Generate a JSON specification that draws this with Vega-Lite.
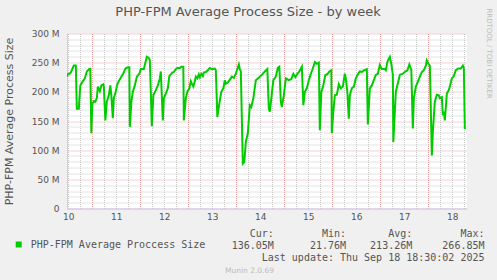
{
  "$schema": "https://vega.github.io/schema/vega-lite/v6.json",
  "width": 400,
  "height": 175,
  "autosize": "none",
  "padding": {"left": 67, "top": 33.5, "right": 30, "bottom": 71.5},
  "background": "#F0F0F0",
  "view": {"fill": "#FFFFFF", "stroke": null},
  "title": {
    "text": "PHP-FPM Average Process Size - by week",
    "font": "DejaVu Sans", "fontSize": 13, "fontWeight": "normal", "color": "#555555",
    "anchor": "middle", "dx": -19, "dy": 21, "offset": 10
  },
  "data": {"values": [
    {"t":"2025-09-10T11:15","v":226},{"t":"2025-09-10T11:45","v":230},{"t":"2025-09-10T13:00","v":232},{"t":"2025-09-10T13:45","v":237},{"t":"2025-09-10T14:45","v":245},{"t":"2025-09-10T15:45","v":245},{"t":"2025-09-10T16:15","v":171},{"t":"2025-09-10T17:15","v":171},{"t":"2025-09-10T17:30","v":186},{"t":"2025-09-10T18:00","v":211},{"t":"2025-09-10T19:15","v":218},{"t":"2025-09-10T20:15","v":223},{"t":"2025-09-10T21:15","v":235},{"t":"2025-09-10T22:30","v":239},{"t":"2025-09-10T23:00","v":239},{"t":"2025-09-10T23:30","v":129},
    {"t":"2025-09-11T00:00","v":180},{"t":"2025-09-11T00:45","v":184},{"t":"2025-09-11T01:30","v":183},{"t":"2025-09-11T02:15","v":189},{"t":"2025-09-11T02:45","v":209},{"t":"2025-09-11T03:45","v":201},{"t":"2025-09-11T04:30","v":211},{"t":"2025-09-11T05:30","v":213},{"t":"2025-09-11T05:45","v":209},{"t":"2025-09-11T06:30","v":151},{"t":"2025-09-11T07:15","v":183},{"t":"2025-09-11T08:15","v":194},{"t":"2025-09-11T09:00","v":211},{"t":"2025-09-11T09:30","v":194},{"t":"2025-09-11T10:15","v":155},{"t":"2025-09-11T10:45","v":189},{"t":"2025-09-11T11:45","v":201},{"t":"2025-09-11T12:30","v":213},{"t":"2025-09-11T13:30","v":220},{"t":"2025-09-11T14:30","v":226},{"t":"2025-09-11T15:45","v":233},{"t":"2025-09-11T16:30","v":240},{"t":"2025-09-11T17:45","v":242},{"t":"2025-09-11T18:30","v":242},{"t":"2025-09-11T18:45","v":140},{"t":"2025-09-11T19:30","v":183},{"t":"2025-09-11T20:15","v":200},{"t":"2025-09-11T21:15","v":211},{"t":"2025-09-11T22:15","v":226},{"t":"2025-09-11T23:30","v":231},
    {"t":"2025-09-12T00:15","v":239},{"t":"2025-09-12T01:45","v":239},{"t":"2025-09-12T03:15","v":260},{"t":"2025-09-12T04:15","v":258},{"t":"2025-09-12T04:45","v":254},{"t":"2025-09-12T05:45","v":141},{"t":"2025-09-12T06:30","v":194},{"t":"2025-09-12T07:45","v":203},{"t":"2025-09-12T08:45","v":211},{"t":"2025-09-12T09:45","v":223},{"t":"2025-09-12T10:15","v":235},{"t":"2025-09-12T11:15","v":151},{"t":"2025-09-12T11:45","v":189},{"t":"2025-09-12T12:45","v":197},{"t":"2025-09-12T13:45","v":206},{"t":"2025-09-12T14:30","v":227},{"t":"2025-09-12T15:15","v":230},{"t":"2025-09-12T16:00","v":233},{"t":"2025-09-12T16:45","v":234},{"t":"2025-09-12T17:45","v":239},{"t":"2025-09-12T18:30","v":241},{"t":"2025-09-12T19:45","v":241},{"t":"2025-09-12T20:30","v":243},{"t":"2025-09-12T21:30","v":243},{"t":"2025-09-12T21:45","v":151},{"t":"2025-09-12T22:45","v":189},{"t":"2025-09-12T23:30","v":200},
    {"t":"2025-09-13T00:30","v":206},{"t":"2025-09-13T01:15","v":218},{"t":"2025-09-13T01:45","v":214},{"t":"2025-09-13T02:30","v":209},{"t":"2025-09-13T03:15","v":218},{"t":"2025-09-13T03:45","v":226},{"t":"2025-09-13T04:30","v":223},{"t":"2025-09-13T05:15","v":230},{"t":"2025-09-13T05:45","v":225},{"t":"2025-09-13T06:30","v":231},{"t":"2025-09-13T07:15","v":227},{"t":"2025-09-13T07:45","v":233},{"t":"2025-09-13T08:45","v":234},{"t":"2025-09-13T09:45","v":237},{"t":"2025-09-13T10:45","v":241},{"t":"2025-09-13T11:45","v":239},{"t":"2025-09-13T13:15","v":240},{"t":"2025-09-13T13:45","v":237},{"t":"2025-09-13T14:30","v":157},{"t":"2025-09-13T15:30","v":180},{"t":"2025-09-13T16:30","v":200},{"t":"2025-09-13T17:30","v":206},{"t":"2025-09-13T18:15","v":220},{"t":"2025-09-13T18:45","v":214},{"t":"2025-09-13T19:45","v":216},{"t":"2025-09-13T20:45","v":221},{"t":"2025-09-13T21:45","v":226},{"t":"2025-09-13T22:45","v":224},{"t":"2025-09-13T23:45","v":231},
    {"t":"2025-09-14T01:15","v":247},{"t":"2025-09-14T01:45","v":239},{"t":"2025-09-14T02:15","v":235},{"t":"2025-09-14T03:15","v":77},{"t":"2025-09-14T04:00","v":80},{"t":"2025-09-14T04:45","v":114},{"t":"2025-09-14T05:45","v":129},{"t":"2025-09-14T06:45","v":177},{"t":"2025-09-14T07:30","v":174},{"t":"2025-09-14T08:30","v":189},{"t":"2025-09-14T09:45","v":220},{"t":"2025-09-14T10:45","v":223},{"t":"2025-09-14T11:45","v":226},{"t":"2025-09-14T12:45","v":229},{"t":"2025-09-14T14:15","v":235},{"t":"2025-09-14T15:30","v":239},{"t":"2025-09-14T16:15","v":171},{"t":"2025-09-14T16:45","v":166},{"t":"2025-09-14T17:30","v":189},{"t":"2025-09-14T18:30","v":220},{"t":"2025-09-14T19:45","v":226},{"t":"2025-09-14T20:45","v":241},{"t":"2025-09-14T21:30","v":243},{"t":"2025-09-14T22:15","v":183},{"t":"2025-09-14T22:45","v":174},{"t":"2025-09-14T23:45","v":194},
    {"t":"2025-09-15T00:45","v":223},{"t":"2025-09-15T02:15","v":220},{"t":"2025-09-15T03:30","v":222},{"t":"2025-09-15T04:30","v":231},{"t":"2025-09-15T05:30","v":225},{"t":"2025-09-15T06:30","v":231},{"t":"2025-09-15T07:30","v":235},{"t":"2025-09-15T08:45","v":243},{"t":"2025-09-15T09:30","v":177},{"t":"2025-09-15T10:15","v":200},{"t":"2025-09-15T11:15","v":206},{"t":"2025-09-15T12:15","v":220},{"t":"2025-09-15T13:15","v":231},{"t":"2025-09-15T14:15","v":240},{"t":"2025-09-15T15:15","v":251},{"t":"2025-09-15T16:15","v":248},{"t":"2025-09-15T17:15","v":250},{"t":"2025-09-15T17:45","v":134},{"t":"2025-09-15T18:30","v":200},{"t":"2025-09-15T19:30","v":211},{"t":"2025-09-15T20:30","v":229},{"t":"2025-09-15T21:30","v":230},{"t":"2025-09-15T22:30","v":235},{"t":"2025-09-15T23:30","v":237},{"t":"2025-09-15T23:45","v":129},
    {"t":"2025-09-16T00:30","v":166},{"t":"2025-09-16T01:15","v":194},{"t":"2025-09-16T02:15","v":195},{"t":"2025-09-16T03:15","v":213},{"t":"2025-09-16T04:15","v":206},{"t":"2025-09-16T05:15","v":209},{"t":"2025-09-16T06:15","v":231},{"t":"2025-09-16T06:45","v":223},{"t":"2025-09-16T07:30","v":200},{"t":"2025-09-16T08:15","v":154},{"t":"2025-09-16T08:45","v":194},{"t":"2025-09-16T09:45","v":206},{"t":"2025-09-16T10:45","v":209},{"t":"2025-09-16T11:45","v":223},{"t":"2025-09-16T12:45","v":230},{"t":"2025-09-16T13:45","v":235},{"t":"2025-09-16T14:45","v":234},{"t":"2025-09-16T15:45","v":237},{"t":"2025-09-16T17:15","v":239},{"t":"2025-09-16T17:45","v":144},{"t":"2025-09-16T18:45","v":206},{"t":"2025-09-16T19:45","v":211},{"t":"2025-09-16T20:45","v":220},{"t":"2025-09-16T21:45","v":229},{"t":"2025-09-16T22:45","v":231},{"t":"2025-09-16T23:45","v":246},
    {"t":"2025-09-17T00:45","v":239},{"t":"2025-09-17T02:15","v":239},{"t":"2025-09-17T02:45","v":237},{"t":"2025-09-17T03:30","v":251},{"t":"2025-09-17T04:15","v":257},{"t":"2025-09-17T04:45","v":260},{"t":"2025-09-17T05:30","v":248},{"t":"2025-09-17T06:15","v":229},{"t":"2025-09-17T06:30","v":114},{"t":"2025-09-17T07:15","v":166},{"t":"2025-09-17T07:45","v":200},{"t":"2025-09-17T08:30","v":211},{"t":"2025-09-17T09:45","v":229},{"t":"2025-09-17T11:15","v":231},{"t":"2025-09-17T12:15","v":234},{"t":"2025-09-17T13:30","v":237},{"t":"2025-09-17T14:30","v":247},{"t":"2025-09-17T15:15","v":240},{"t":"2025-09-17T15:30","v":237},{"t":"2025-09-17T16:15","v":137},{"t":"2025-09-17T16:45","v":189},{"t":"2025-09-17T17:45","v":209},{"t":"2025-09-17T18:45","v":217},{"t":"2025-09-17T19:45","v":226},{"t":"2025-09-17T20:45","v":234},{"t":"2025-09-17T21:45","v":237},{"t":"2025-09-17T22:45","v":245},{"t":"2025-09-17T23:15","v":254},
    {"t":"2025-09-18T00:15","v":247},{"t":"2025-09-18T00:45","v":245},{"t":"2025-09-18T01:45","v":91},{"t":"2025-09-18T02:15","v":131},{"t":"2025-09-18T03:15","v":183},{"t":"2025-09-18T04:15","v":195},{"t":"2025-09-18T05:15","v":194},{"t":"2025-09-18T05:45","v":189},{"t":"2025-09-18T06:45","v":191},{"t":"2025-09-18T07:15","v":160},{"t":"2025-09-18T07:45","v":166},{"t":"2025-09-18T08:15","v":151},{"t":"2025-09-18T09:15","v":197},{"t":"2025-09-18T10:15","v":203},{"t":"2025-09-18T10:45","v":209},{"t":"2025-09-18T11:45","v":223},{"t":"2025-09-18T12:45","v":227},{"t":"2025-09-18T13:45","v":237},{"t":"2025-09-18T15:00","v":240},{"t":"2025-09-18T16:15","v":240},{"t":"2025-09-18T17:15","v":245},{"t":"2025-09-18T17:45","v":241},{"t":"2025-09-18T18:15","v":136}
  ]},
  "layer": [
    {
      "mark": {"type": "line", "strokeWidth": 2, "clip": true},
      "encoding": {
        "x": {
          "field": "t", "type": "temporal",
          "scale": {"domain": [{"year": 2025, "month": 9, "date": 10, "hours": 11, "minutes": 20}, {"year": 2025, "month": 9, "date": 18, "hours": 19, "minutes": 20}]},
          "axis": {
            "values": [
              {"year":2025,"month":9,"date":10,"hours":12},{"year":2025,"month":9,"date":10,"hours":18},
              {"year":2025,"month":9,"date":11,"hours":0},{"year":2025,"month":9,"date":11,"hours":6},{"year":2025,"month":9,"date":11,"hours":12},{"year":2025,"month":9,"date":11,"hours":18},
              {"year":2025,"month":9,"date":12,"hours":0},{"year":2025,"month":9,"date":12,"hours":6},{"year":2025,"month":9,"date":12,"hours":12},{"year":2025,"month":9,"date":12,"hours":18},
              {"year":2025,"month":9,"date":13,"hours":0},{"year":2025,"month":9,"date":13,"hours":6},{"year":2025,"month":9,"date":13,"hours":12},{"year":2025,"month":9,"date":13,"hours":18},
              {"year":2025,"month":9,"date":14,"hours":0},{"year":2025,"month":9,"date":14,"hours":6},{"year":2025,"month":9,"date":14,"hours":12},{"year":2025,"month":9,"date":14,"hours":18},
              {"year":2025,"month":9,"date":15,"hours":0},{"year":2025,"month":9,"date":15,"hours":6},{"year":2025,"month":9,"date":15,"hours":12},{"year":2025,"month":9,"date":15,"hours":18},
              {"year":2025,"month":9,"date":16,"hours":0},{"year":2025,"month":9,"date":16,"hours":6},{"year":2025,"month":9,"date":16,"hours":12},{"year":2025,"month":9,"date":16,"hours":18},
              {"year":2025,"month":9,"date":17,"hours":0},{"year":2025,"month":9,"date":17,"hours":6},{"year":2025,"month":9,"date":17,"hours":12},{"year":2025,"month":9,"date":17,"hours":18},
              {"year":2025,"month":9,"date":18,"hours":0},{"year":2025,"month":9,"date":18,"hours":6},{"year":2025,"month":9,"date":18,"hours":12},{"year":2025,"month":9,"date":18,"hours":18}
            ],
            "labelExpr": "hours(datum.value) === 12 ? timeFormat(datum.value, '%d') : ''",
            "labelFont": "DejaVu Sans", "labelFontSize": 9, "labelColor": "#555555",
            "labelPadding": 4, "labelOverlap": false, "labelFlush": false, "labelBound": false,
            "ticks": false, "tickSize": 0,
            "domainColor": "#CCCCF8",
            "grid": true,
            "gridColor": {"condition": {"test": "hours(datum.value) === 0", "value": "#F0A0A0"}, "value": "#C8C8C8"},
            "gridDash": [1, 1],
            "title": ["Cur:\u00a0\u00a0\u00a0\u00a0\u00a0\u00a0\u00a0\u00a0Min:\u00a0\u00a0\u00a0\u00a0\u00a0\u00a0\u00a0Avg:\u00a0\u00a0\u00a0\u00a0\u00a0\u00a0\u00a0\u00a0Max:\u00a0\u00a0", "136.05M\u00a0\u00a0\u00a0\u00a0\u00a0\u00a021.76M\u00a0\u00a0\u00a0\u00a0213.26M\u00a0\u00a0\u00a0\u00a0\u00a0266.85M", "Last update: Thu Sep 18 18:30:02 2025"],
            "titleFont": "DejaVu Sans Mono", "titleFontSize": 10, "titleFontWeight": "normal", "titleColor": "#555555",
            "titleAlign": "right", "titleBaseline": "alphabetic", "titleLineHeight": 12,
            "titleX": 417, "titleY": 27.5
          }
        },
        "y": {
          "field": "v", "type": "quantitative",
          "scale": {"domain": [0, 300], "nice": false},
          "axis": {
            "values": [0,10,20,30,40,50,60,70,80,90,100,110,120,130,140,150,160,170,180,190,200,210,220,230,240,250,260,270,280,290,300],
            "labelExpr": "datum.value % 50 === 0 ? (datum.value === 0 ? '0' : datum.value + ' M') : ''",
            "labelFont": "DejaVu Sans", "labelFontSize": 9, "labelColor": "#555555",
            "labelPadding": 8, "labelOverlap": false, "labelBound": false, "labelFlush": false,
            "ticks": false, "tickSize": 0,
            "domainColor": "#CCCCF8",
            "grid": true,
            "gridColor": {"condition": {"test": "datum.value % 50 === 0", "value": "#F0A0A0"}, "value": "#C8C8C8"},
            "gridDash": [1, 1],
            "title": "PHP-FPM Average Process Size",
            "titleFont": "DejaVu Sans", "titleFontSize": 11, "titleFontWeight": "normal", "titleColor": "#555555",
            "titleAngle": 270, "titleAlign": "center", "titleBaseline": "alphabetic",
            "titleX": -55, "titleY": 87.5
          }
        },
        "color": {
          "datum": "PHP-FPM Average Proccess Size",
          "type": "nominal",
          "scale": {"range": ["#00CC00"]},
          "legend": {
            "orient": "none", "legendX": -53.3, "legendY": 206, "title": null, "padding": 0,
            "symbolType": "square", "symbolSize": 36, "symbolFillColor": "#00CC00", "symbolStrokeWidth": 0,
            "labelFont": "DejaVu Sans Mono", "labelFontSize": 10, "labelColor": "#555555", "labelOffset": 7, "labelLimit": 0
          }
        }
      }
    },
    {
      "mark": {"type": "line", "strokeOpacity": 0},
      "encoding": {
        "x": {
          "field": "t", "type": "temporal",
          "scale": {"domain": [{"year": 2025, "month": 9, "date": 10, "hours": 11, "minutes": 20}, {"year": 2025, "month": 9, "date": 18, "hours": 19, "minutes": 20}]},
          "axis": {
            "orient": "bottom", "labels": false, "ticks": false, "domain": false, "grid": false,
            "title": "Munin 2.0.69", "titleFont": "DejaVu Sans", "titleFontSize": 7.5, "titleFontWeight": "normal", "titleColor": "#BBBBBB",
            "titleAlign": "center", "titleBaseline": "alphabetic", "titleX": 182, "titleY": 64
          }
        },
        "y": {
          "field": "v", "type": "quantitative",
          "scale": {"domain": [0, 300], "nice": false},
          "axis": {
            "orient": "right", "labels": false, "ticks": false, "domain": false, "grid": false,
            "title": "RRDTOOL / TOBI OETIKER", "titleFont": "DejaVu Sans", "titleFontSize": 7, "titleFontWeight": "normal", "titleColor": "#BBBBBB",
            "titleAngle": 90, "titleAlign": "center", "titleBaseline": "middle", "titleX": 21, "titleY": 19.5
          }
        }
      }
    }
  ],
  "resolve": {"scale": {"x": "independent", "y": "independent"}}
}
